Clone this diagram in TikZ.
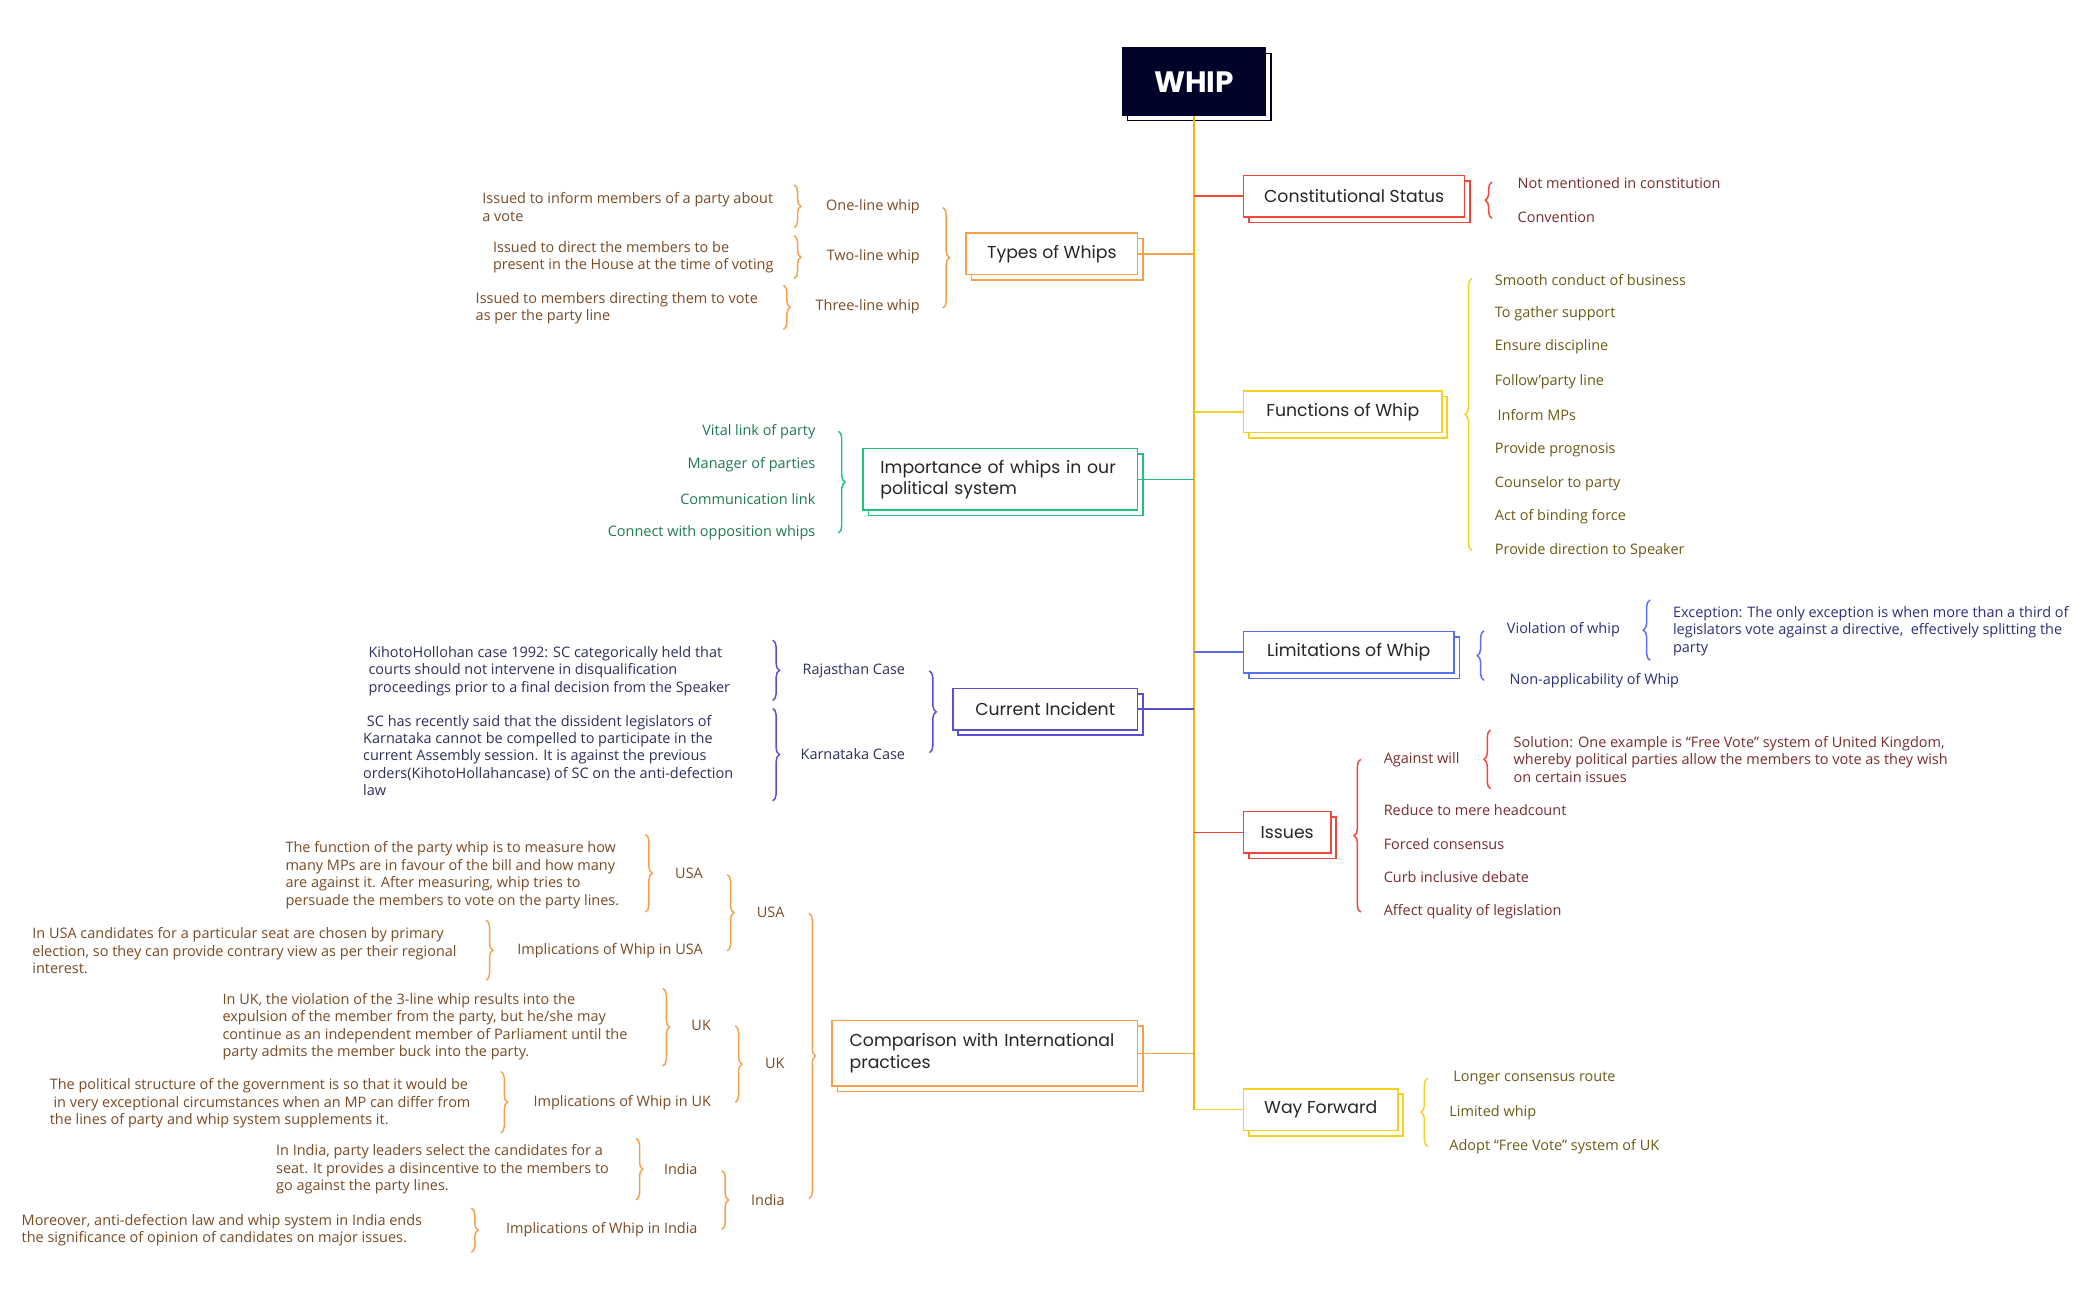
\documentclass[tikz,border=0pt]{standalone}
\usepackage{fontspec}
\setmainfont{Open Sans}
\newfontfamily\boxfont{Poppins}
\usetikzlibrary{decorations.pathreplacing,shadows}

\definecolor{navy}{HTML}{02032B}
\definecolor{gold}{HTML}{F2B705}
\definecolor{redline}{HTML}{F2453D}
\definecolor{orangeline}{HTML}{F7A04A}
\definecolor{yellowline}{HTML}{F5D21F}
\definecolor{greenline}{HTML}{1FC27A}
\definecolor{blueline}{HTML}{5A6CF0}
\definecolor{indigoline}{HTML}{5A4FCF}
\definecolor{redtext}{HTML}{7A2B2B}
\definecolor{browntext}{HTML}{7A4A22}
\definecolor{olivetext}{HTML}{6B5A14}
\definecolor{greentext}{HTML}{1E7A4E}
\definecolor{bluetext}{HTML}{2B2E7A}
\definecolor{indigotext}{HTML}{2E2E5E}

\tikzset{
  topic/.style={draw=#1, fill=white, line width=1.2pt, text=black!85,
    font=\boxfont\fontsize{12.9}{16}\selectfont, minimum height=31pt,
    copy shadow={shadow xshift=4pt, shadow yshift=-4pt}},
  leaf/.style={text=#1, font=\fontsize{10.8}{13}\selectfont, inner sep=0pt,
    align=left, anchor=west},
  rleaf/.style={leaf=#1, align=right, anchor=east},
  brace/.style={draw=#1, line width=1.1pt, decorate,
    decoration={brace, amplitude=5pt}},
  link/.style={draw=#1, line width=1.2pt}
}

\begin{document}
\begin{tikzpicture}[x=1pt, y=-1pt]
\useasboundingbox (0,0) rectangle (1568,971);

% root
\node[fill=navy, draw=navy, line width=1.2pt, text=white,
  font=\boxfont\bfseries\fontsize{22}{26}\selectfont,
  minimum width=107pt, minimum height=50pt,
  copy shadow={shadow xshift=4pt, shadow yshift=-4pt, fill=white}] (whip) at (891.5,61) {WHIP};

% main topics
\node[topic=redline, anchor=west, minimum width=165pt] (cstat) at (928,146.5) {Constitutional Status};
\node[topic=orangeline, anchor=east, minimum width=128pt] (types) at (850,189.5) {Types of Whips};
\node[topic=yellowline, anchor=west, minimum width=148pt] (func) at (928,307.5) {Functions of Whip};
\node[topic=greenline, anchor=east, align=left, text width=179pt, inner xsep=13pt,
  minimum height=46pt] (imp) at (850,358) {Importance of whips in our\\political system};
\node[topic=blueline, anchor=west, minimum width=157pt] (limit) at (928,487) {Limitations of Whip};
\node[topic=indigoline, anchor=east, minimum width=138pt] (curr) at (850,529.5) {Current Incident};
\node[topic=redline, anchor=west, minimum width=65pt] (issues) at (928,621.5) {Issues};
\node[topic=orangeline, anchor=east, align=left, text width=202pt, inner xsep=13pt,
  minimum height=49pt] (comp) at (850,786.5) {Comparison with International\\practices};
\node[topic=yellowline, anchor=west, minimum width=115pt] (wayfwd) at (928,828.5) {Way Forward};

% trunk and branches
\draw[link=gold] (whip.south) -- (whip.south |- wayfwd.west);
\draw[link=redline] (whip.south |- cstat.west) -- (cstat.west);
\draw[link=orangeline] (whip.south |- types.east) -- (types.east);
\draw[link=yellowline] (whip.south |- func.west) -- (func.west);
\draw[link=greenline] (whip.south |- imp.east) -- (imp.east);
\draw[link=blueline] (whip.south |- limit.west) -- (limit.west);
\draw[link=indigoline] (whip.south |- curr.east) -- (curr.east);
\draw[link=redline] (whip.south |- issues.west) -- (issues.west);
\draw[link=orangeline] (whip.south |- comp.east) -- (comp.east);
\draw[link=yellowline] (whip.south |- wayfwd.west) -- (wayfwd.west);

% constitutional status
\draw[brace=redline] (1114,163) -- (1114,136);
\node[leaf=redtext] (cs1) at (1133,137) {Not mentioned in constitution};
\node[leaf=redtext] (cs2) at (1133,162) {Convention};

% types of whips
\draw[brace=orangeline] (704,155) -- (704,230);
\node[rleaf=browntext] (ty1) at (687,154) {One-line whip};
\node[rleaf=browntext] (ty2) at (687,192) {Two-line whip};
\node[rleaf=browntext] (ty3) at (687,229) {Three-line whip};
\draw[brace=orangeline] (593,138) -- (593,170);
\draw[brace=orangeline] (593,176) -- (593,208);
\draw[brace=orangeline] (585,213) -- (585,246);
\node[leaf=browntext] (ty1a) at (360,154.5) {Issued to inform members of a party about\\a vote};
\node[leaf=browntext] (ty2a) at (368,192) {Issued to direct the members to be\\present in the House at the time of voting};
\node[leaf=browntext] (ty3a) at (355,230) {Issued to members directing them to vote\\as per the party line};

% functions
\draw[brace=yellowline] (1099,411) -- (1099,208);
\node[leaf=olivetext] (fn1) at (1116,209) {Smooth conduct of business};
\node[leaf=olivetext] (fn2) at (1116,234) {To gather support};
\node[leaf=olivetext] (fn3) at (1116,259) {Ensure discipline};
\node[leaf=olivetext] (fn4) at (1116,285) {Follow'party line};
\node[leaf=olivetext] (fn5) at (1118,310) {Inform MPs};
\node[leaf=olivetext] (fn6) at (1116,336) {Provide prognosis};
\node[leaf=olivetext] (fn7) at (1116,361) {Counselor to party};
\node[leaf=olivetext] (fn8) at (1116,386) {Act of binding force};
\node[leaf=olivetext] (fn9) at (1116,411) {Provide direction to Speaker};

% importance
\draw[brace=greenline] (626,322) -- (626,398);
\node[rleaf=greentext] (im1) at (609,322) {Vital link of party};
\node[rleaf=greentext] (im2) at (609,347) {Manager of parties};
\node[rleaf=greentext] (im3) at (609,373) {Communication link};
\node[rleaf=greentext] (im4) at (609,398) {Connect with opposition whips};

% limitations
\draw[brace=blueline] (1108,508) -- (1108,471);
\node[leaf=bluetext] (li1) at (1125,470) {Violation of whip};
\node[leaf=bluetext] (li2) at (1127,508) {Non-applicability of Whip};
\draw[brace=blueline] (1232,493) -- (1232,448);
\node[leaf=bluetext] (li1a) at (1249,471) {Exception: The only exception is when more than a third of\\legislators vote against a directive,\ \ effectively splitting the\\party};

% current incident
\draw[brace=indigoline] (694,501) -- (694,562);
\node[rleaf=indigotext] (ci1) at (676,501) {Rajasthan Case};
\node[rleaf=indigotext] (ci2) at (676,563) {Karnataka Case};
\draw[brace=indigoline] (577,478) -- (577,523);
\draw[brace=indigoline] (577,529) -- (577,598);
\node[leaf=indigotext] (ci1a) at (275,501) {KihotoHollohan case 1992: SC categorically held that\\courts should not intervene in disqualification\\proceedings prior to a final decision from the Speaker};
\node[leaf=indigotext] (ci2a) at (271,564) {\ SC has recently said that the dissident legislators of\\Karnataka cannot be compelled to participate in the\\current Assembly session. It is against the previous\\orders(KihotoHollahancase) of SC on the anti-defection\\law};

% issues
\draw[brace=redline] (1016,681) -- (1016,567);
\node[leaf=redtext] (is1) at (1033,567) {Against will};
\node[leaf=redtext] (is2) at (1033,605) {Reduce to mere headcount};
\node[leaf=redtext] (is3) at (1033,630) {Forced consensus};
\node[leaf=redtext] (is4) at (1033,655) {Curb inclusive debate};
\node[leaf=redtext] (is5) at (1033,681) {Affect quality of legislation};
\draw[brace=redline] (1113,589) -- (1113,545);
\node[leaf=redtext] (is1a) at (1130,567) {Solution: One example is “Free Vote” system of United Kingdom,\\whereby political parties allow the members to vote as they wish\\on certain issues};

% comparison
\draw[brace=orangeline] (604,682) -- (604,895);
\node[rleaf=browntext] (co1) at (586,681) {USA};
\node[rleaf=browntext] (co2) at (586,794) {UK};
\node[rleaf=browntext] (co3) at (586,896) {India};
% usa
\draw[brace=orangeline] (543,653) -- (543,710);
\node[rleaf=browntext] (us1) at (525,652) {USA};
\node[rleaf=browntext] (us2) at (525,710) {Implications of Whip in USA};
\draw[brace=orangeline] (482,623) -- (482,681);
\draw[brace=orangeline] (363,687) -- (363,732);
\node[leaf=browntext] (us1a) at (213,653.5) {The function of the party whip is to measure how\\many MPs are in favour of the bill and how many\\are against it. After measuring, whip tries to\\persuade the members to vote on the party lines.};
\node[leaf=browntext] (us2a) at (24,710) {In USA candidates for a particular seat are chosen by primary\\election, so they can provide contrary view as per their regional\\interest.};
% uk
\draw[brace=orangeline] (549,766) -- (549,823);
\node[rleaf=browntext] (uk1) at (531,766) {UK};
\node[rleaf=browntext] (uk2) at (531,823) {Implications of Whip in UK};
\draw[brace=orangeline] (495,738) -- (495,796);
\draw[brace=orangeline] (374,800) -- (374,846);
\node[leaf=browntext] (uk1a) at (166,766.5) {In UK, the violation of the 3-line whip results into the\\expulsion of the member from the party, but he/she may\\continue as an independent member of Parliament until the\\party admits the member buck into the party.};
\node[leaf=browntext] (uk2a) at (37,824) {The political structure of the government is so that it would be\\\ in very exceptional circumstances when an MP can differ from\\the lines of party and whip system supplements it.};
% india
\draw[brace=orangeline] (539,874) -- (539,918);
\node[rleaf=browntext] (in1) at (521,873) {India};
\node[rleaf=browntext] (in2) at (521,918) {Implications of Whip in India};
\draw[brace=orangeline] (475,850) -- (475,896);
\draw[brace=orangeline] (352,902) -- (352,935);
\node[leaf=browntext] (in1a) at (206,873) {In India, party leaders select the candidates for a\\seat. It provides a disincentive to the members to\\go against the party lines.};
\node[leaf=browntext] (in2a) at (16,918.5) {Moreover, anti-defection law and whip system in India ends\\the significance of opinion of candidates on major issues.};

% way forward
\draw[brace=yellowline] (1066,856) -- (1066,805);
\node[leaf=olivetext] (wf1) at (1085,805) {Longer consensus route};
\node[leaf=olivetext] (wf2) at (1082,831) {Limited whip};
\node[leaf=olivetext] (wf3) at (1082,856) {Adopt “Free Vote” system of UK};
\end{tikzpicture}
\end{document}
